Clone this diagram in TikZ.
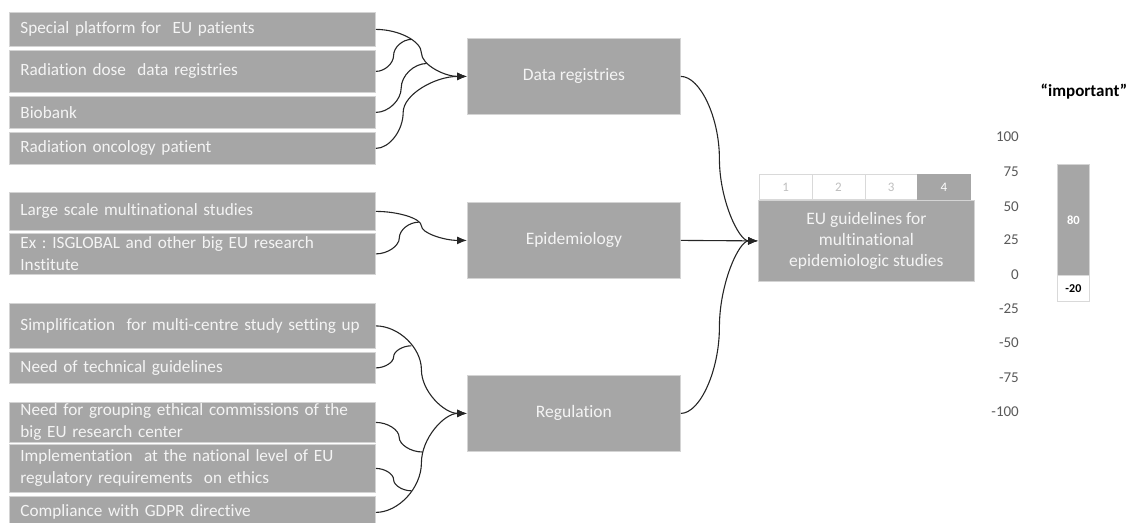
\documentclass[tikz,border=0pt]{standalone}
\usepackage{fontspec}
\setmainfont{Carlito}[Ligatures=NoCommon]
\usetikzlibrary{arrows.meta,calc}
\definecolor{boxgrey}{HTML}{A6A6A6}
\definecolor{boxedge}{HTML}{D4D4D4}
\definecolor{boxtext}{HTML}{F4F4F4}
\definecolor{celltext}{HTML}{BFBFBF}
\definecolor{celledge}{HTML}{D9D9D9}
\definecolor{scaletext}{HTML}{595959}
\newcommand{\bxfont}{\fontsize{17.2}{22}\selectfont\frenchspacing}
\newcommand{\mdfont}{\fontsize{17.5}{21}\selectfont}
\begin{document}
\begin{tikzpicture}[x=1pt,y=-1pt,
  lbox/.style={fill=boxgrey, draw=boxedge, line width=0.8pt, text=boxtext, font=\bxfont,
    align=left, text width=344pt, inner xsep=11pt, inner ysep=0pt, anchor=north west},
  mbox/.style={fill=boxgrey, draw=boxedge, line width=0.8pt, text=boxtext, font=\mdfont,
    minimum width=213pt, minimum height=76pt, inner sep=0pt, anchor=north west},
  fbox/.style={fill=boxgrey, draw=boxedge, line width=0.8pt, text=boxtext, font=\mdfont,
    align=center, minimum width=216pt, minimum height=81pt, inner sep=0pt, anchor=north west},
  cell/.style={fill=white, draw=celledge, line width=0.8pt, text=celltext,
    font=\fontsize{13}{15}\selectfont, minimum width=52.75pt, minimum height=25pt,
    inner sep=0pt, anchor=north west},
  cellon/.style={cell, fill=boxgrey, draw=black!35, text=white},
  scl/.style={text=scaletext, font=\fontsize{15}{17}\selectfont, anchor=east, inner sep=0pt},
  barbox/.style={fill=boxgrey, draw=boxedge, line width=0.8pt, text=white,
    font=\fontsize{12.5}{14}\selectfont\bfseries, minimum width=32pt, minimum height=111pt,
    inner sep=0pt, anchor=north west},
  negbox/.style={fill=white, draw=celledge, line width=0.8pt, text=black,
    font=\fontsize{12}{14}\selectfont\bfseries, minimum width=32pt, minimum height=26pt,
    inner sep=0pt, anchor=north west},
  conn/.style={draw=black!85, line width=1.1pt},
  arr/.style={-{Latex[length=10pt,width=8pt]}},
  cc/.style={to path={let \p1=(\tikztostart), \p2=(\tikztotarget) in
    .. controls ({\x1+#1*(\x2-\x1)/2},\y1) and ({\x1+#1*(\x2-\x1)},{0.75*\y1+0.25*\y2})
    .. ({\x1+#1*(\x2-\x1)},{0.5*\y1+0.5*\y2})
    .. controls ({\x1+#1*(\x2-\x1)},{0.25*\y1+0.75*\y2}) and ({(\x1+#1*(\x2-\x1)+\x2)/2},\y2)
    .. (\tikztotarget)}},
  cc/.default=0.5
]
\useasboundingbox (0,0) rectangle (1131,522);

% left boxes
\node[lbox, minimum height=34pt] (l1) at (9,12) {Special platform for\ \ EU patients};
\node[lbox, minimum height=42pt] (l2) at (9,50) {Radiation dose\ \ data registries};
\node[lbox, minimum height=32pt] (l3) at (9,96) {Biobank};
\node[lbox, minimum height=32pt] (l4) at (9,132) {Radiation oncology patient};
\node[lbox, minimum height=38pt] (l5) at (9,192) {Large scale multinational studies};
\node[lbox, minimum height=41pt] (l6) at (9,233) {Ex : ISGLOBAL and other big EU research\\Institute};
\node[lbox, minimum height=45pt] (l7) at (9,303) {Simplification\ \ for multi-centre study setting up};
\node[lbox, minimum height=31pt] (l8) at (9,352) {Need of technical guidelines};
\node[lbox, minimum height=40pt] (l9) at (9,402) {Need for grouping ethical commissions of the\\big EU research center};
\node[lbox, minimum height=48pt] (l10) at (9,444) {Implementation\ \ at the national level of EU\\regulatory requirements\ \ on ethics};
\node[lbox, minimum height=32pt] (l11) at (9,496) {Compliance with GDPR directive};

% middle boxes
\node[mbox] (dr) at (467,38) {Data registries};
\node[mbox] (ep) at (467,202) {Epidemiology};
\node[mbox] (rg) at (467,375) {Regulation};

% final box with cells
\node[fbox] (fin) at (758,200) {EU guidelines for\\multinational\\epidemiologic studies};
\node[cell] (c1) at (759,174) {1};
\node[cell] (c2) at (811.75,174) {2};
\node[cell] (c3) at (864.5,174) {3};
\node[cellon] (c4) at (917.25,174) {4};

% scale
\foreach \v/\yy [count=\i] in {100/137,75/172,50/207,25/240,0/275,-25/309,-50/343,-75/378,-100/412}
  \node[scl] (sc\i) at (1019,\yy) {\v};

% bar
\node[barbox] (bar) at (1057,164) {80};
\node[negbox] (neg) at (1057,275) {-20};
\node[font=\fontsize{17}{20}\selectfont\bfseries, inner sep=0pt] (imp) at (1084,92) {“important”};

% join points
\coordinate (jt1) at (411.4,39.4);
\coordinate (jt2) at (426.6,63.5);
\coordinate (jm1) at (418.5,222.2);
\coordinate (jb1) at (411.4,345.8);
\coordinate (jb2) at (422.5,452);
\coordinate (jb3) at (411.4,490.8);

% connectors
\draw[conn,arr] (l1.east) to[cc] (dr.west);
\draw[conn] (l2.east) to[cc] (jt1);
\draw[conn] (l3.east) to[cc] (jt2);
\draw[conn,arr] (l4.east) to[cc=0.3] (dr.west);
\draw[conn,arr] (l5.east) to[cc] (ep.west);
\draw[conn] (l6.east) to[cc=0.55] (jm1);
\draw[conn,arr] (l7.east) to[cc] (rg.west);
\draw[conn] (l8.east) to[cc] (jb1);
\draw[conn] (l9.east) to[cc] (jb2);
\draw[conn] (l10.east) to[cc] (jb3);
\draw[conn,arr] (l11.east) to[cc] (rg.west);
\draw[conn,arr] (dr.east) to[cc] (fin.west);
\draw[conn,arr] (ep.east) -- (fin.west);
\draw[conn,arr] (rg.east) to[cc] (fin.west);
\end{tikzpicture}
\end{document}
